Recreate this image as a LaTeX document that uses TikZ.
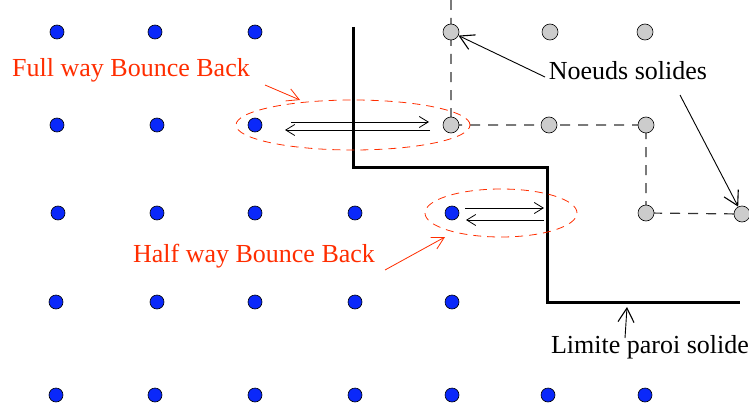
\documentclass[tikz,border=0pt]{standalone}
\usepackage{fontspec}
\setmainfont{Liberation Serif}
\usetikzlibrary{arrows.meta,shapes.geometric}
\definecolor{fluid}{RGB}{10,40,250}
\definecolor{solidg}{RGB}{204,204,204}
\definecolor{bbred}{RGB}{255,45,0}
\tikzset{
  fdot/.style={circle,draw=black,fill=fluid,line width=0.6pt,minimum size=14pt,inner sep=0pt},
  sdot/.style={circle,draw=black,fill=solidg,line width=0.6pt,minimum size=16pt,inner sep=0pt},
  wall/.style={line width=3pt},
  grid/.style={dashed,dash pattern=on 10pt off 8pt,line width=1.2pt,draw=black!80},
  bb/.style={-{Straight Barb[length=9pt,width=11pt,line width=0.8pt]},line width=0.8pt},
  lbl/.style={font=\fontsize{26pt}{28pt}\selectfont,inner sep=0pt},
  redlbl/.style={lbl,text=bbred},
  redarr/.style={-{Straight Barb[length=12pt,width=13pt,line width=0.8pt]},draw=bbred,line width=0.8pt},
  ptr/.style={-{Straight Barb[length=14pt,width=16pt,line width=1.1pt]},line width=0.9pt},
  ell/.style={ellipse,draw=bbred,dashed,dash pattern=on 8pt off 6pt,line width=0.8pt}
}
\begin{document}
\begin{tikzpicture}[x=1pt,y=-1pt]
\useasboundingbox (0,0) rectangle (749,412);
% dashed solid grid lines
\coordinate (gtop) at (451,0);
\draw[grid] (gtop) -- (451,125) -- (646,125) -- (646,213) -- (742,214);
% fluid nodes
\foreach \x/\y [count=\i] in {57/32,155/32,255/32, 57/125,157/125,255/125,
  58/213,157/213,255/213,355/213,452/213,
  56/302,157/302,255/302,355/302,452/302,
  56/395,155/395,255/395,355/395,452/395,548/395,645/395}
  \node[fdot] (f\i) at (\x,\y) {};
% solid nodes
\foreach \x/\y/\n in {451/32/s1,550/32/s2,645/32/s3,451/125/s4,549/125/s5,646/125/s6,646/213/s7,742/214/s8}
  \node[sdot] (\n) at (\x,\y) {};
% wall
\coordinate (w1) at (353,27);
\coordinate (w2) at (353,167);
\coordinate (w3) at (547,167);
\coordinate (w4) at (547,302);
\coordinate (w5) at (740,302);
\draw[wall] (w1) -- (w2) -- (w3) -- (w4) -- (w5);
% full way bounce back
\node[ell,minimum width=234pt,minimum height=50pt] (e1) at (353,125) {};
\coordinate (a1) at (291,122); \coordinate (a2) at (429,122);
\coordinate (a3) at (430,130); \coordinate (a4) at (285,130);
\draw[bb] (a1) -- (a2);
\draw[bb] (a3) -- (a4);
% half way bounce back
\node[ell,minimum width=152pt,minimum height=48pt] (e2) at (501,213) {};
\coordinate (b1) at (465,208); \coordinate (b2) at (544,208);
\coordinate (b3) at (544,220); \coordinate (b4) at (466,220);
\draw[bb] (b1) -- (b2);
\draw[bb] (b3) -- (b4);
% labels
\node[redlbl] (lfull) at (131,70) {Full way Bounce Back};
\node[redlbl] (lhalf) at (254,256) {Half way Bounce Back};
\coordinate (t1) at (300,100);
\coordinate (t2) at (445,237);
\draw[redarr] (265,85) -- (t1);
\draw[redarr] (385,270) -- (t2);
\node[lbl] (lns) at (628,71) {Noeuds solides};
\draw[ptr] (545,77) -- (s1);
\draw[ptr] (680,95) -- (s8);
\node[lbl] (llim) at (650,347) {Limite paroi solide};
\coordinate (limtip) at (627,307);
\draw[ptr] (625,338) -- (limtip);
\end{tikzpicture}
\end{document}
